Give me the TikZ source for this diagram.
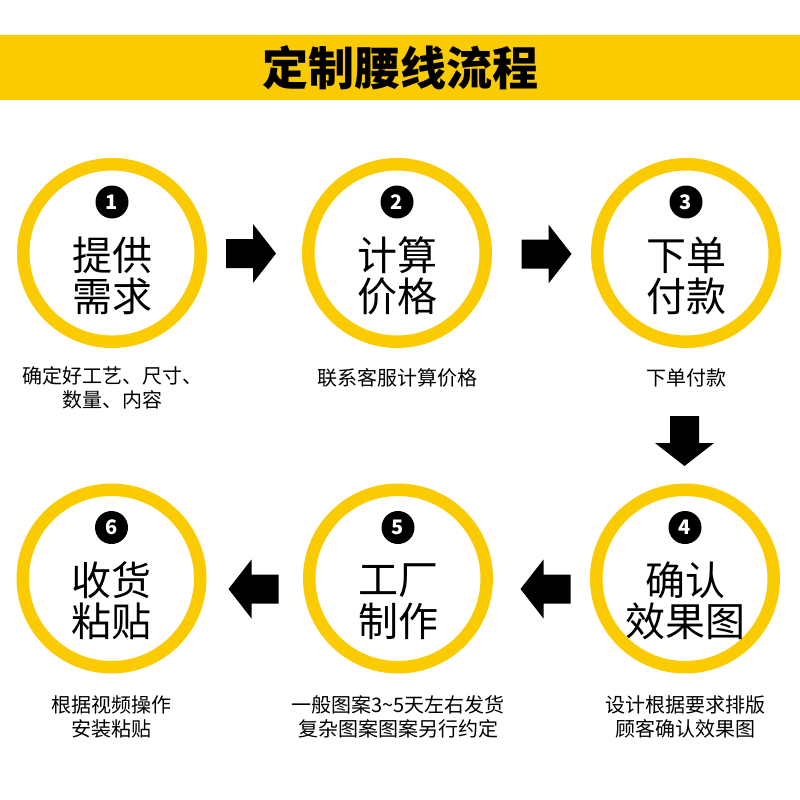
\documentclass[tikz,border=0pt]{standalone}
\usepackage{fontspec}
\newfontfamily\cjk{Noto Sans CJK SC}
\definecolor{yel}{HTML}{F9CB00}
\begin{document}
\begin{tikzpicture}[x=1pt,y=-1pt,
  ring/.style={draw=yel,line width=12.5pt,circle,minimum size=177.5pt,inner sep=0pt},
  badge/.style={fill=black,circle,minimum size=33pt,inner sep=0pt,text=white,font=\cjk\bfseries\fontsize{20}{20}\selectfont},
  big/.style={inner sep=0pt,font=\cjk\fontsize{40}{40}\selectfont},
  captxt/.style={inner sep=0pt,align=center,font=\cjk\fontsize{20}{24}\selectfont},
  blockarrow/.pic={\fill[black] (-25,-14.5) -- (2,-14.5) -- (2,-29.5) -- (25,0) -- (2,29.5) -- (2,14.5) -- (-25,14.5) -- cycle;}
]
\useasboundingbox (0,0) rectangle (800,800);
\node[fill=yel,minimum width=800pt,minimum height=65pt,inner sep=0pt,font=\cjk\bfseries\fontsize{46}{46}\selectfont] (banner) at (400,67.5) {定制腰线流程};

% row 1
\node[ring] (c1) at (112,253) {};
\node[badge] (b1) at (112,202) {1};
\node[big] (t1a) at (112,255) {提供};
\node[big] (t1b) at (112,296) {需求};
\node[captxt] (d1) at (112,388) {确定好工艺、尺寸、\\数量、内容};

\node[ring] (c2) at (397,253) {};
\node[badge] (b2) at (397,202) {2};
\node[big] (t2a) at (397,255) {计算};
\node[big] (t2b) at (397,296) {价格};
\node[captxt] (d2) at (397,378) {联系客服计算价格};

\node[ring] (c3) at (686,253) {};
\node[badge] (b3) at (686,202) {3};
\node[big] (t3a) at (686,255) {下单};
\node[big] (t3b) at (686,296) {付款};
\node[captxt] (d3) at (686,378) {下单付款};

% row 2
\node[ring] (c4) at (685,578.5) {};
\node[badge] (b4) at (685,527.5) {4};
\node[big] (t4a) at (685,580.5) {确认};
\node[big] (t4b) at (685,621.5) {效果图};
\node[captxt] (d4) at (685,716.5) {设计根据要求排版\\顾客确认效果图};

\node[ring] (c5) at (398,578.5) {};
\node[badge] (b5) at (398,527.5) {5};
\node[big] (t5a) at (398,580.5) {工厂};
\node[big] (t5b) at (398,621.5) {制作};
\node[captxt] (d5) at (398,716.5) {一般图案3\textasciitilde5天左右发货\\复杂图案图案另行约定};

\node[ring] (c6) at (111.5,578.5) {};
\node[badge] (b6) at (111.5,527.5) {6};
\node[big] (t6a) at (111.5,580.5) {收货};
\node[big] (t6b) at (111.5,621.5) {粘贴};
\node[captxt] (d6) at (111.5,716.5) {根据视频操作\\安装粘贴};

% arrows
\pic at (251,253.5) {blockarrow};
\pic at (546.5,254) {blockarrow};
\pic[rotate=-90] at (684.5,441) {blockarrow};
\pic[rotate=180] at (545.5,589) {blockarrow};
\pic[rotate=180] at (253.5,589) {blockarrow};
\end{tikzpicture}
\end{document}
